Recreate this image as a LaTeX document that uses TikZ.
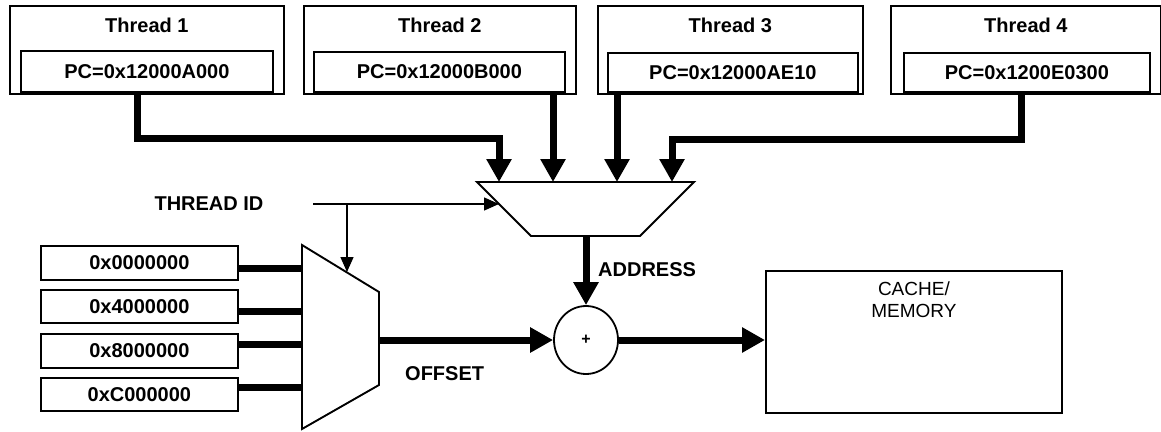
\documentclass[tikz,border=0pt]{standalone}
\usepackage{fontspec}
\setmainfont{Liberation Sans}
\usetikzlibrary{arrows.meta,calc,shapes.geometric}
\begin{document}
\begin{tikzpicture}[x=1pt,y=-1pt,
  box/.style={draw, line width=1.8pt, inner sep=0pt, anchor=north west},
  bus/.style={line width=7pt, -{Triangle[length=23pt,width=24pt]}},
  busplain/.style={line width=7pt},
  thinarrow/.style={line width=1.4pt, -{Triangle[length=15pt,width=13pt]}},
  lbl/.style={font=\fontsize{20}{23}\selectfont\bfseries, inner sep=0pt},
  muxline/.style={line width=1.9pt, line join=miter},
]
\useasboundingbox (0,0) rectangle (1161,431);

% thread boxes
\node[box, minimum width=274, minimum height=88] (t1) at (9,5) {};
\node[box, minimum width=272, minimum height=88] (t2) at (303,5) {};
\node[box, minimum width=265, minimum height=88] (t3) at (597,5) {};
\node[box, minimum width=270, minimum height=88] (t4) at (890,5) {};
\node[lbl] (t1l) at ($(t1.north)+(0,20)$) {Thread 1};
\node[lbl] (t2l) at ($(t2.north)+(0,20)$) {Thread 2};
\node[lbl] (t3l) at ($(t3.north)+(0,20)$) {Thread 3};
\node[lbl] (t4l) at ($(t4.north)+(0,20)$) {Thread 4};
\node[box, lbl, minimum width=252, minimum height=41] (p1) at (20,50) {PC=0x12000A000};
\node[box, lbl, minimum width=251, minimum height=40] (p2) at (313,51) {PC=0x12000B000};
\node[box, lbl, minimum width=250, minimum height=39] (p3) at (607,52) {PC=0x12000AE10};
\node[box, lbl, minimum width=246, minimum height=39] (p4) at (903,52) {PC=0x1200E0300};

% upper mux
\coordinate (UA) at (477,182);
\coordinate (UB) at (694,182);
\coordinate (UC) at (640,236);
\coordinate (UD) at (531,236);
\draw[muxline] (UA) -- (UB) -- (UC) -- (UD) -- cycle;
\coordinate (m1) at (499,182);
\coordinate (m2) at (553,182);
\coordinate (m3) at (617,182);
\coordinate (m4) at (672,182);
\coordinate (mbot) at (586,236);

\draw[bus] ($(p1.south)+(-9,0)$) |- ($(m1)+(0,-44)$) -- (m1);
\draw[bus] (p2.south -| m2) -- (m2);
\draw[bus] (p3.south -| m3) -- (m3);
\draw[bus] ($(p4.south)+(-5,0)$) |- ($(m4)+(0,-43)$) -- (m4);

% thread id
\node[lbl] (tid) at (209,204) {THREAD ID};
\coordinate (tidin) at (313,204);
\coordinate (sel1) at (499,204);
\coordinate (br) at (347,204);
\coordinate (sel2) at (347,272);
\draw[thinarrow] (tidin) -- (sel1);
\draw[thinarrow] (br) -- (sel2);

% lower mux
\coordinate (LA) at (302,245);
\coordinate (LB) at (379,292);
\coordinate (LC) at (379,385);
\coordinate (LD) at (302,429);
\draw[muxline] (LA) -- (LB) -- (LC) -- (LD) -- cycle;

% offset boxes
\node[box, lbl, minimum width=197, minimum height=34] (o1) at (40,245) {0x0000000};
\node[box, lbl, minimum width=197, minimum height=33] (o2) at (40,289) {0x4000000};
\node[box, lbl, minimum width=197, minimum height=34] (o3) at (40,333) {0x8000000};
\node[box, lbl, minimum width=197, minimum height=33] (o4) at (40,377) {0xC000000};
\coordinate (i1) at (302,268);
\coordinate (i2) at (302,311);
\coordinate (i3) at (302,344);
\coordinate (i4) at (302,387);
\draw[busplain] (o1.east |- i1) -- (i1);
\draw[busplain] (o2.east |- i2) -- (i2);
\draw[busplain] (o3.east |- i3) -- (i3);
\draw[busplain] (o4.east |- i4) -- (i4);

% adder
\node[draw, ellipse, line width=1.8pt, minimum width=64, minimum height=68, inner sep=0pt] (add) at (586,340) {};
\node[font=\fontsize{16}{18}\selectfont\bfseries] (plus) at (add.center) {+};
\coordinate (mo) at (379,340);
\draw[bus] (mo) -- (add.west);
\draw[bus] (mbot) -- (add.north);
\node[lbl, anchor=west] (addr) at (598,270) {ADDRESS};
\node[lbl, anchor=west] (off) at (405,374) {OFFSET};

% cache
\node[box, minimum width=296, minimum height=142] (cache) at (765,270) {};
\node[font=\fontsize{19}{22}\selectfont, align=center, anchor=north, inner sep=0pt] (ct) at ($(cache.north)+(0,12)$) {CACHE/\\MEMORY};
\draw[bus] (add.east) -- (add.east -| cache.west);
\end{tikzpicture}
\end{document}
